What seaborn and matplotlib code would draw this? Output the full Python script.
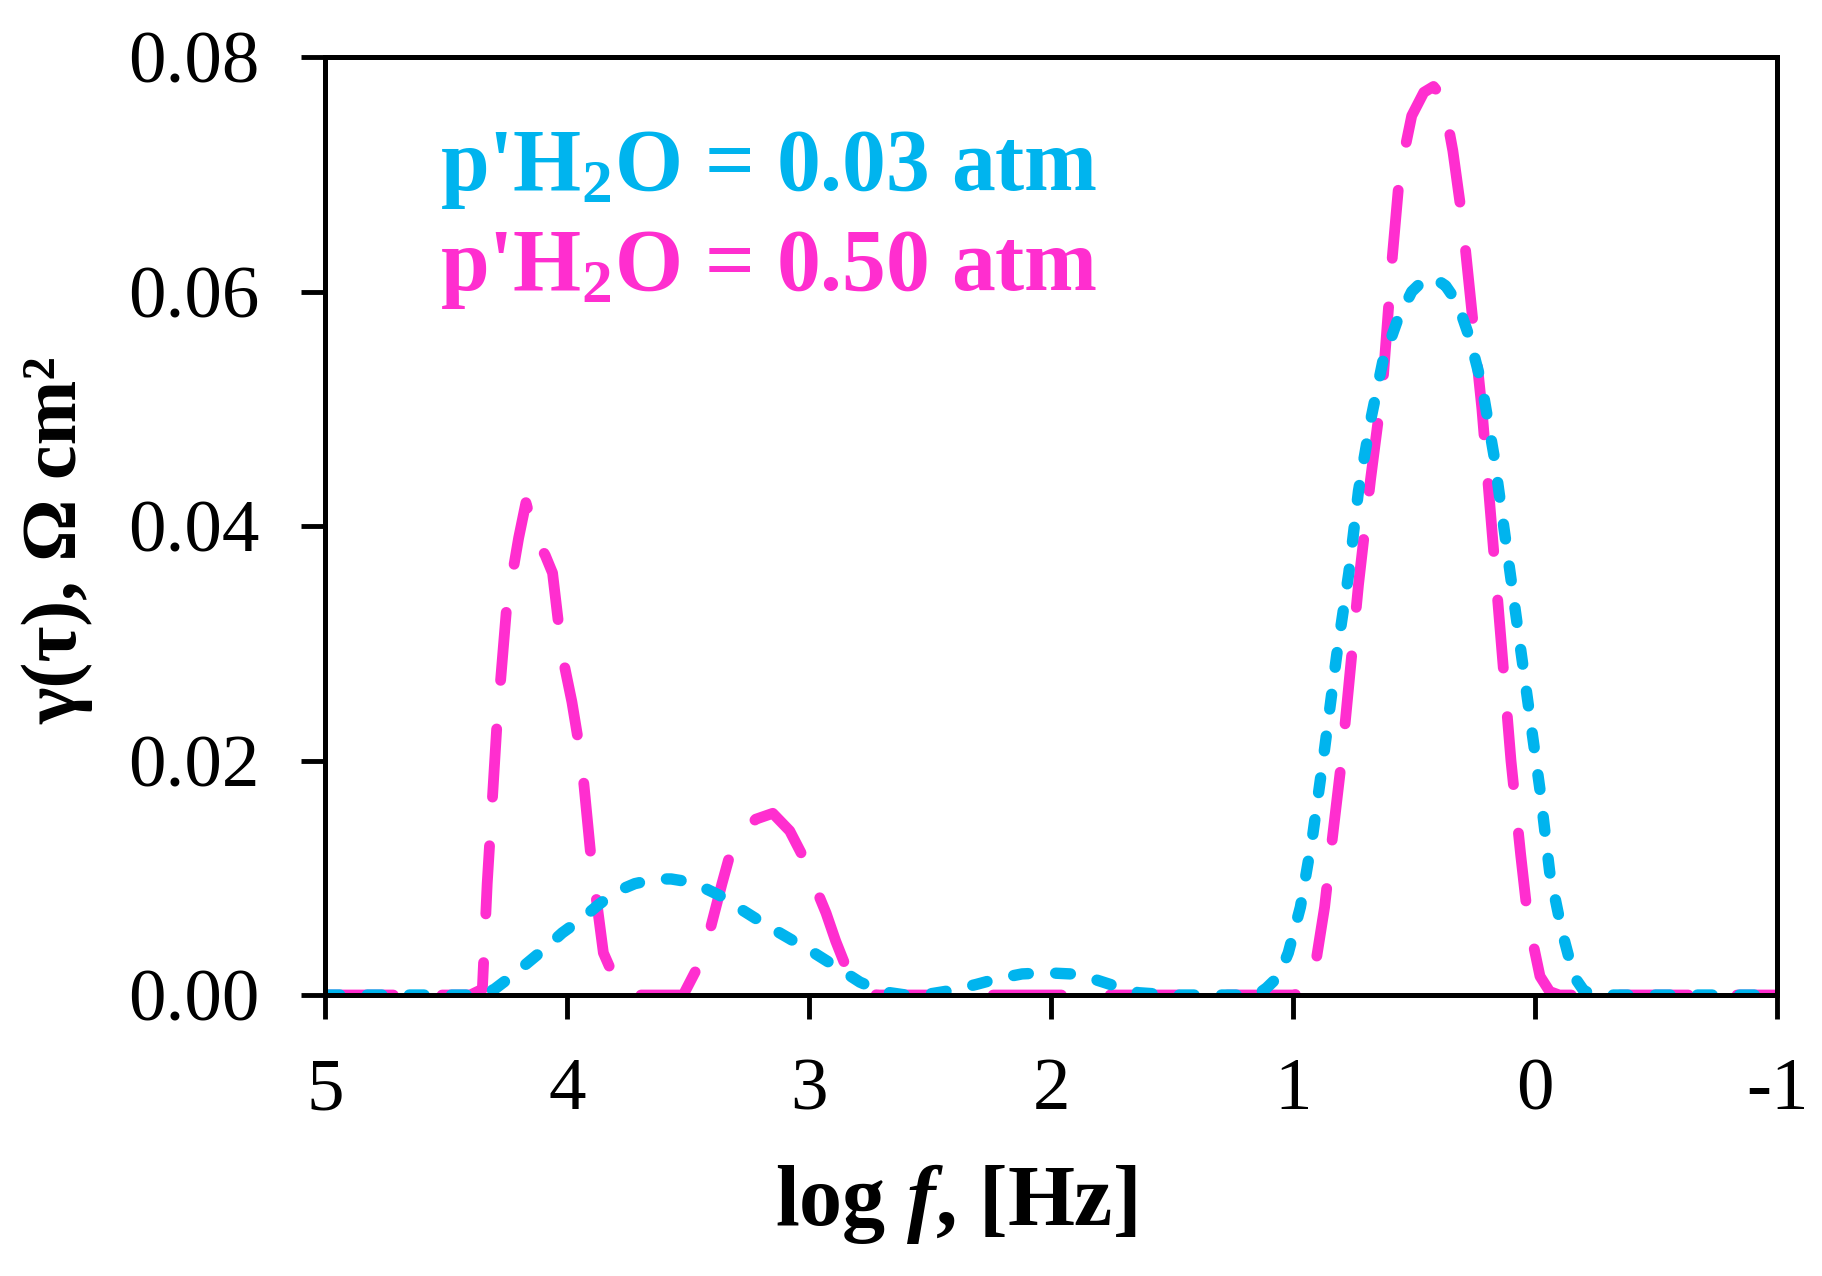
import numpy as np
import pandas as pd
import seaborn as sns
import matplotlib.pyplot as plt

# DRT curves (log f in Hz, gamma in Ohm cm^2)
log_f_050 = [5.0, 4.40, 4.35, 4.33, 4.29, 4.25, 4.20, 4.17, 4.13, 4.09, 4.06, 4.02, 3.98,
             3.94, 3.90, 3.85, 3.78, 3.70, 3.52, 3.47, 3.41, 3.36, 3.32, 3.27, 3.22, 3.15,
             3.08, 3.03, 2.98, 2.93, 2.89, 2.84, 2.79, 2.72, 1.00, 0.96, 0.92, 0.87, 0.84,
             0.80, 0.73, 0.68, 0.63, 0.59, 0.56, 0.51, 0.46, 0.42, 0.38, 0.34, 0.30, 0.27,
             0.22, 0.18, 0.14, 0.10, 0.06, 0.03, -0.02, -0.06, -0.10, -1.0]
gamma_050 = [0.0, 0.0, 0.0005, 0.0095, 0.023, 0.033, 0.039, 0.042, 0.039, 0.0375, 0.036,
             0.029, 0.025, 0.020, 0.0115, 0.0036, 0.0003, 0.0, 0.0, 0.002, 0.0055, 0.0095,
             0.0125, 0.014, 0.0150, 0.0155, 0.014, 0.012, 0.0095, 0.007, 0.0046, 0.002,
             0.0006, 0.0, 0.0, 0.0002, 0.001, 0.0075, 0.013, 0.020, 0.035, 0.044, 0.052,
             0.063, 0.070, 0.075, 0.077, 0.0775, 0.0765, 0.072, 0.066, 0.060, 0.050, 0.040,
             0.030, 0.020, 0.012, 0.0065, 0.0016, 0.0003, 0.0, 0.0]

log_f_003 = [5.0, 4.35, 4.30, 4.23, 4.16, 4.09, 4.02, 3.94, 3.87, 3.80, 3.72, 3.63, 3.57,
             3.51, 3.44, 3.37, 3.28, 3.18, 3.08, 2.98, 2.88, 2.79, 2.70, 2.60, 2.50, 2.41,
             2.31, 2.22, 2.12, 2.02, 1.92, 1.83, 1.74, 1.64, 1.50, 1.15, 1.11, 1.06, 1.02,
             0.97, 0.92, 0.87, 0.82, 0.77, 0.73, 0.68, 0.63, 0.57, 0.51, 0.46, 0.42, 0.37,
             0.32, 0.27, 0.22, 0.17, 0.13, 0.08, 0.03, -0.02, -0.06, -0.11, -0.16, -0.20,
             -0.24, -1.0]
gamma_003 = [0.0, 0.0, 0.0005, 0.0016, 0.0028, 0.004, 0.0053, 0.0065, 0.0077, 0.0088,
             0.0095, 0.0099, 0.0099, 0.0097, 0.0092, 0.0085, 0.0073, 0.006, 0.0048, 0.0036,
             0.0023, 0.0011, 0.0003, 0.0, 0.0001, 0.0004, 0.0009, 0.0014, 0.0018, 0.0019,
             0.0018, 0.0014, 0.0008, 0.0002, 0.0, 0.0, 0.0006, 0.0016, 0.0036, 0.0075,
             0.0135, 0.021, 0.029, 0.036, 0.043, 0.049, 0.054, 0.0575, 0.060, 0.061, 0.0612,
             0.0605, 0.059, 0.056, 0.052, 0.046, 0.040, 0.0325, 0.025, 0.0175, 0.0105,
             0.0055, 0.0016, 0.0004, 0.0, 0.0]

labels = ["p'H$_{\\rm 2}$O = 0.03 atm", "p'H$_{\\rm 2}$O = 0.50 atm"]
colors = ["#00B4EE", "#FF2ECF"]
x_ticks = [5, 4, 3, 2, 1, 0, -1]
y_ticks = [0.00, 0.02, 0.04, 0.06, 0.08]

sns.set_style("white")
plt.rcParams['font.family'] = ['Liberation Serif', 'DejaVu Serif']
plt.rcParams['mathtext.fontset'] = 'custom'
plt.rcParams['mathtext.rm'] = 'Liberation Serif:bold'
plt.rcParams['mathtext.it'] = 'Liberation Serif:italic:bold'
plt.rcParams['mathtext.bf'] = 'Liberation Serif:bold'

fig = plt.figure(figsize=(18.22, 12.76), dpi=100)
ax = fig.add_axes([0.1784, 0.2202, 0.797, 0.735])

df_050 = pd.DataFrame({'logf': log_f_050, 'gamma': gamma_050})
df_003 = pd.DataFrame({'logf': log_f_003, 'gamma': gamma_003})

# magenta long dashes first, cyan short dashes on top
sns.lineplot(data=df_050, x='logf', y='gamma', ax=ax, color=colors[1], linewidth=7.8,
             sort=False)
ax.lines[-1].set_dashes([6.3, 4.5])
sns.lineplot(data=df_003, x='logf', y='gamma', ax=ax, color=colors[0], linewidth=8.2,
             sort=False)
ax.lines[-1].set_dashes([1.3, 2.4])
for ln in ax.lines:
    ln.set_dash_capstyle('round')
    ln.set_solid_joinstyle('round')

ax.set_xlim(5, -1)
ax.set_ylim(0, 0.08)
ax.set_xticks(x_ticks)
ax.set_xticklabels([str(t) for t in x_ticks])
ax.set_yticks(y_ticks)
ax.set_yticklabels([f"{t:.2f}" for t in y_ticks])
ax.tick_params(axis='both', which='major', bottom=True, left=True, direction='out',
               length=17, width=3.5, labelsize=54, colors='black')
ax.tick_params(axis='x', pad=28)
ax.tick_params(axis='y', pad=30)

for sp in ax.spines.values():
    sp.set_color('black')
    sp.set_linewidth(3.6)

ax.set_xlabel("log $f$, [Hz]", fontsize=62, fontweight='bold', color='black', va='baseline')
ax.xaxis.set_label_coords(0.434, -0.245)
ax.set_ylabel("γ(τ), Ω cm²", fontsize=56, fontweight='bold', color='black', va='center')
ax.yaxis.set_label_coords(-0.184, 0.485)

ax.text(0.079, 0.858, labels[0], transform=ax.transAxes, color=colors[0],
        fontsize=63, fontweight='bold', va='baseline', ha='left')
ax.text(0.079, 0.752, labels[1], transform=ax.transAxes, color=colors[1],
        fontsize=63, fontweight='bold', va='baseline', ha='left')

fig.savefig('out.png', dpi=100, facecolor='white')
